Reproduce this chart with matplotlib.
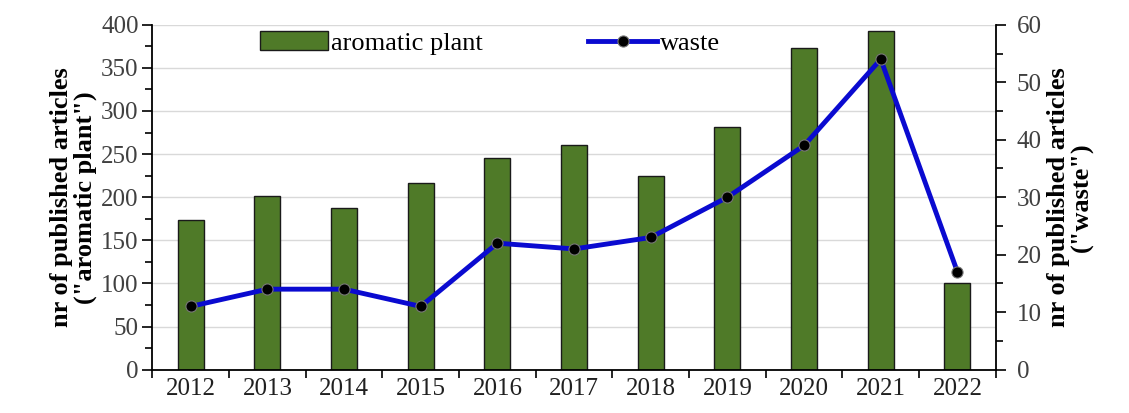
import numpy as np
import matplotlib
matplotlib.use("Agg")
from matplotlib import pyplot as plt
from matplotlib.ticker import MultipleLocator

years = ['2012', '2013', '2014', '2015', '2016', '2017', '2018', '2019', '2020', '2021', '2022']
aromatic_plant = [174, 201, 188, 216, 245, 260, 225, 282, 373, 393, 101]
waste = [11, 14, 14, 11, 22, 21, 23, 30, 39, 54, 17]

plt.rcParams['font.family'] = ['Liberation Serif', 'DejaVu Serif']
plt.rcParams['font.size'] = 18

fig, ax = plt.subplots(figsize=(11.29, 4.13), dpi=100)
fig.subplots_adjust(left=0.135, right=0.882, top=0.94, bottom=0.105)

x = np.arange(len(years))

# Bars on the left axis
bars = ax.bar(x, aromatic_plant, width=0.34, color='#4f7a28', edgecolor='#1a1a1a',
              linewidth=1.0, label='aromatic plant', zorder=2)
ax.set_ylim(0, 400)
ax.set_xlim(-0.5, len(years) - 0.5)
ax.yaxis.set_major_locator(MultipleLocator(50))
ax.yaxis.set_minor_locator(MultipleLocator(25))
ax.grid(axis='y', color='#d9d9d9', linewidth=1.0, zorder=0)
ax.set_axisbelow(True)
ax.set_ylabel('nr of published articles\n("aromatic plant")', fontweight='bold',
              fontsize=19, linespacing=1.0, labelpad=3)

# Ticks between categories
ax.set_xticks(x)
ax.set_xticklabels(years)
ax.set_xticks(np.arange(-0.5, len(years), 1), minor=True)
ax.tick_params(axis='x', which='major', length=0, pad=6)
ax.tick_params(axis='x', which='minor', length=6, width=1.2, direction='out')
ax.tick_params(axis='y', which='major', length=7, width=1.2, direction='out', pad=3)
ax.tick_params(axis='y', which='minor', length=5, width=1.2, direction='out')
for lab in ax.get_yticklabels():
    lab.set_color('#404040')
for lab in ax.get_xticklabels():
    lab.set_color('#202020')

for side in ['top', 'right']:
    ax.spines[side].set_visible(False)
ax.spines['left'].set_linewidth(1.3)
ax.spines['bottom'].set_linewidth(1.3)

# Line on the right axis
ax2 = ax.twinx()
line, = ax2.plot(x, waste, color='#0a0ad0', linewidth=3.5, marker='o', markersize=8,
                 markerfacecolor='black', markeredgecolor='#777777', markeredgewidth=0.8,
                 label='waste', zorder=3)
ax2.set_ylim(0, 60)
ax2.yaxis.set_major_locator(MultipleLocator(10))
ax2.yaxis.set_minor_locator(MultipleLocator(5))
ax2.tick_params(axis='y', which='major', length=7, width=1.2, direction='out', pad=8)
ax2.tick_params(axis='y', which='minor', length=5, width=1.2, direction='out')
for lab in ax2.get_yticklabels():
    lab.set_color('#404040')
ax2.set_ylabel('nr of published articles\n("waste")', fontweight='bold',
               fontsize=19, linespacing=1.0, labelpad=4)
for side in ['top', 'left', 'bottom']:
    ax2.spines[side].set_visible(False)
ax2.spines['right'].set_linewidth(1.3)

ax.legend([bars, line], ['aromatic plant', 'waste'], loc='upper center',
          bbox_to_anchor=(0.4, 1.05), ncol=2, frameon=False, columnspacing=4,
          handlelength=2.6, handletextpad=0.1, fontsize=19)

plt.savefig('out.png', dpi=100)
